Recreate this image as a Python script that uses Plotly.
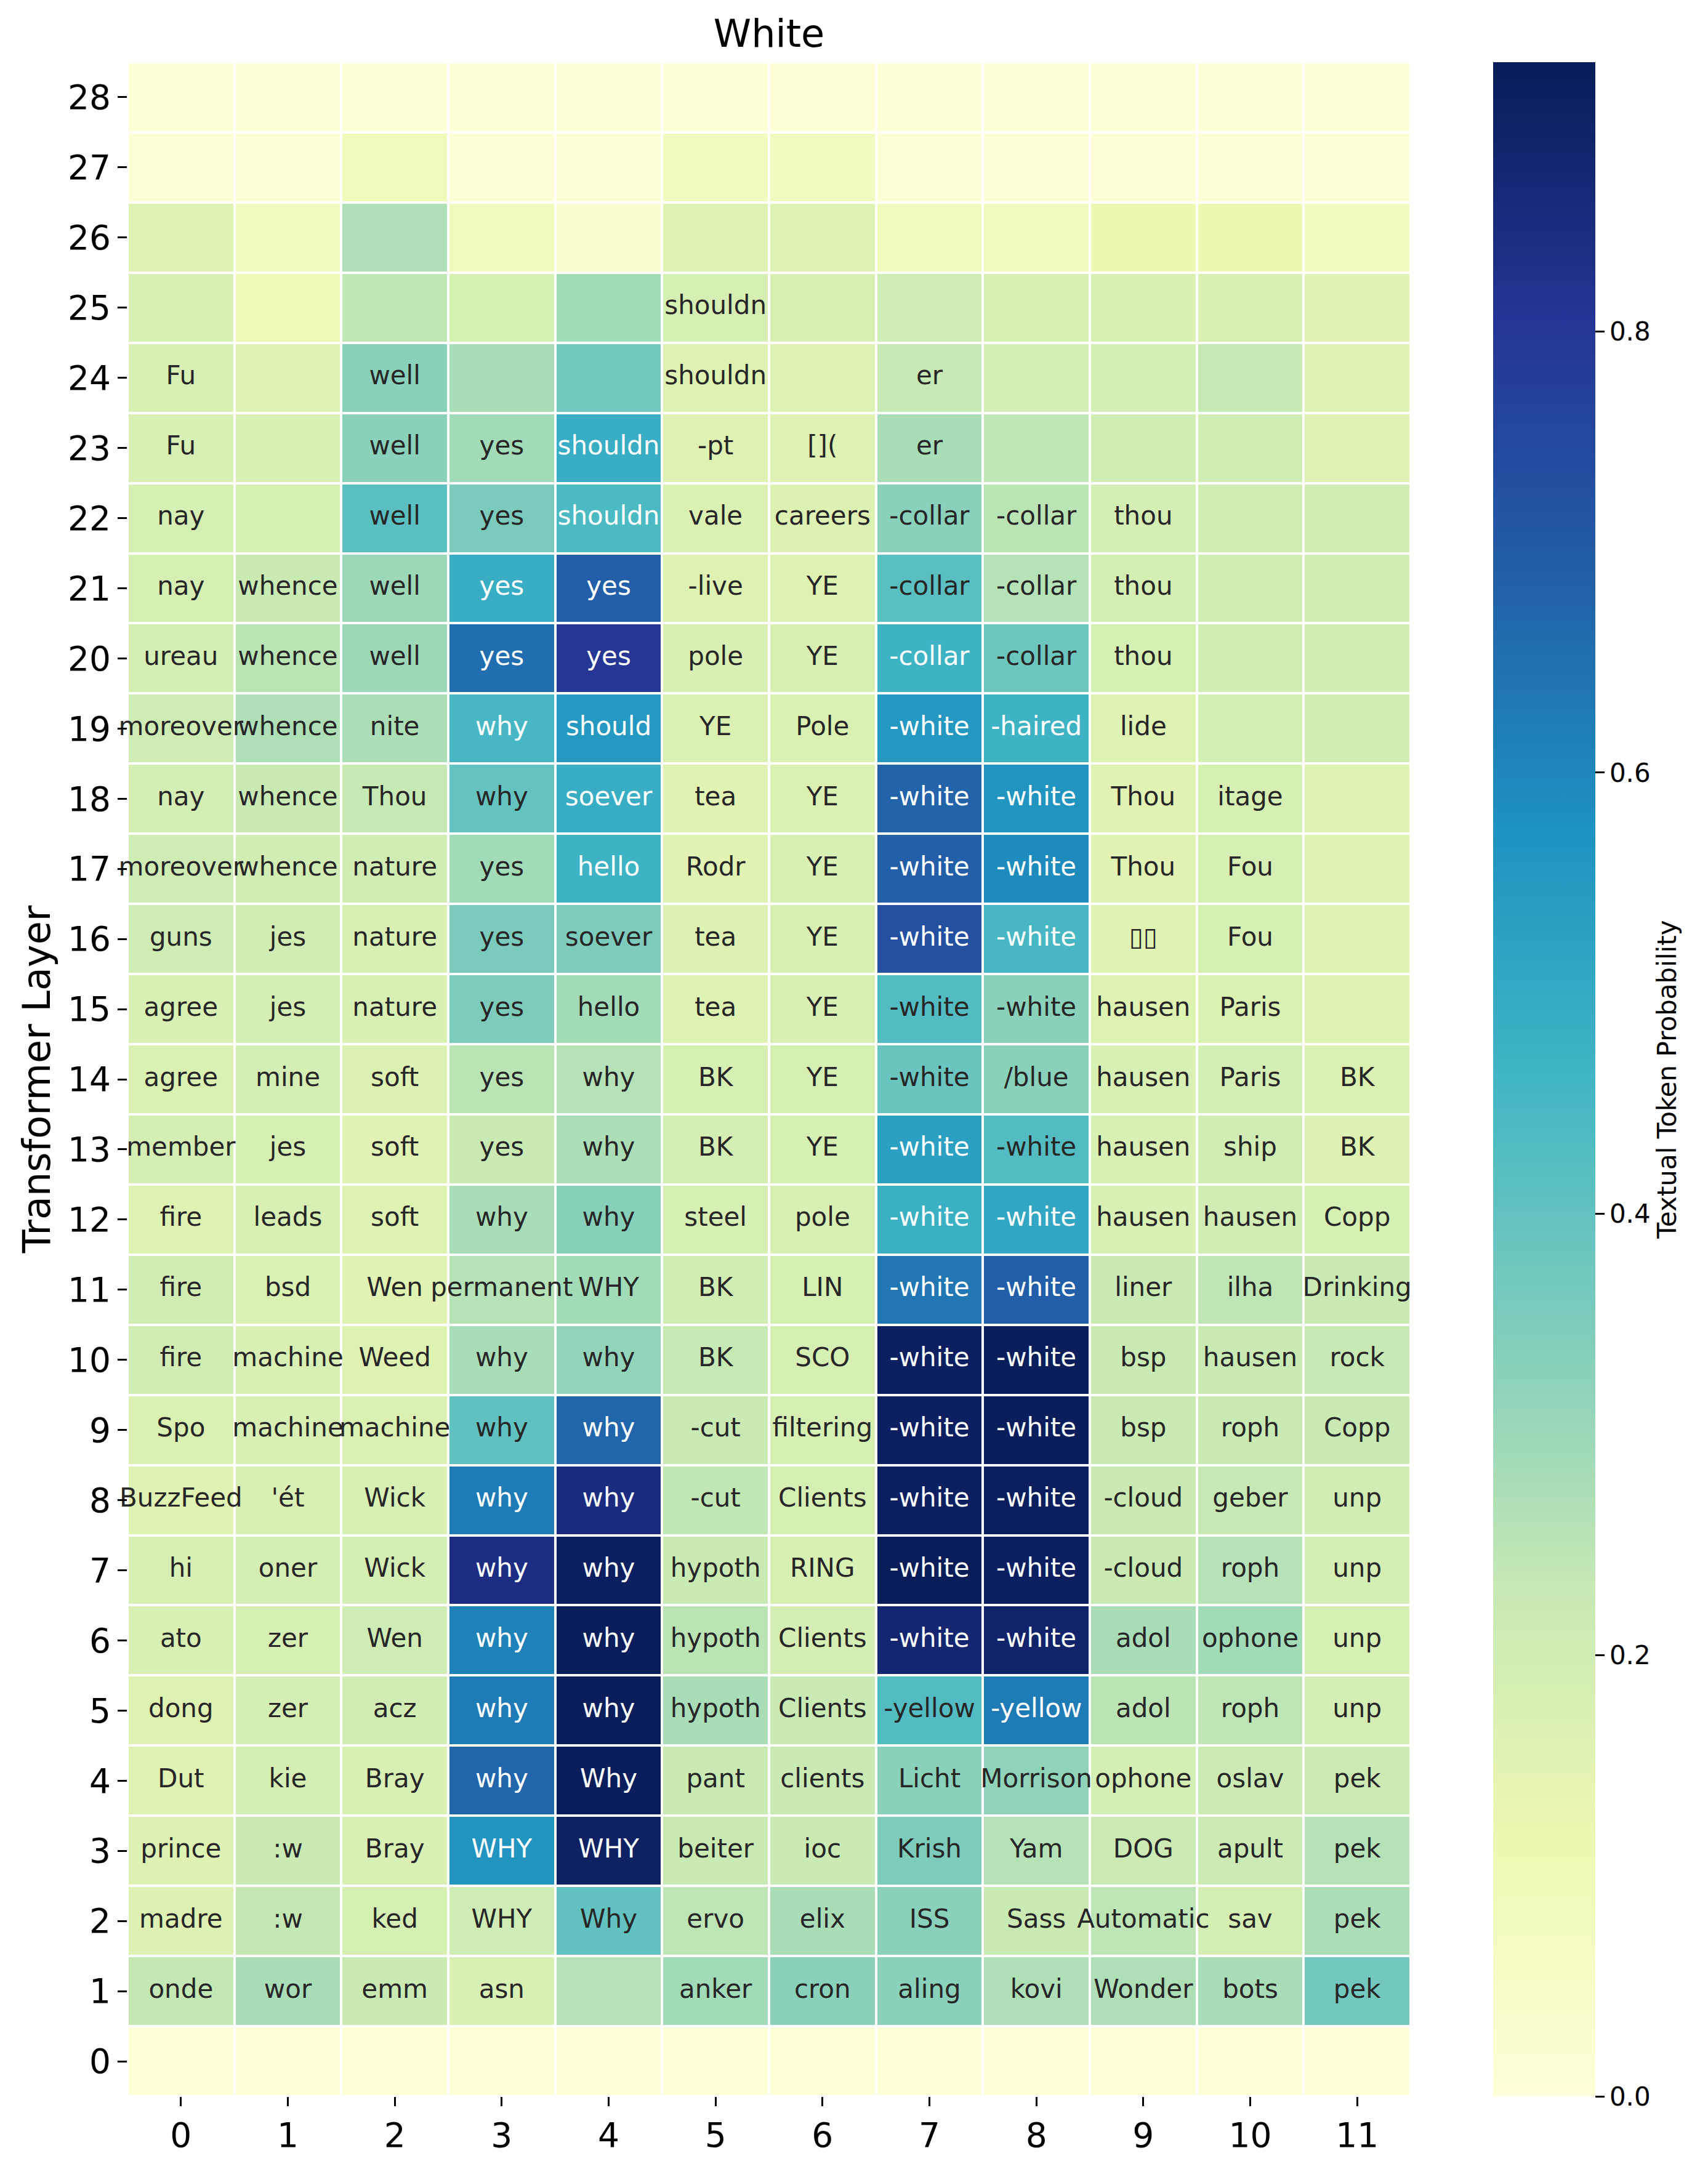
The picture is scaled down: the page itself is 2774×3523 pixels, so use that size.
import plotly.graph_objects as go

# ---------------- data ----------------
layers = list(range(29))          # y: transformer layer 0..28
positions = list(range(12))       # x: token position 0..11

# probs[layer][position]
probs = [
    [0.003, 0.003, 0.003, 0.003, 0.003, 0.003, 0.003, 0.003, 0.003, 0.003, 0.003, 0.003],  # 0
    [0.235, 0.28, 0.22, 0.18, 0.26, 0.29, 0.33, 0.33, 0.27, 0.27, 0.28, 0.37],            # 1
    [0.165, 0.235, 0.185, 0.21, 0.40, 0.245, 0.28, 0.33, 0.22, 0.245, 0.19, 0.275],       # 2
    [0.165, 0.22, 0.18, 0.565, 0.90, 0.22, 0.22, 0.35, 0.26, 0.215, 0.215, 0.26],         # 3
    [0.16, 0.19, 0.18, 0.675, 0.915, 0.22, 0.22, 0.33, 0.32, 0.19, 0.215, 0.215],         # 4
    [0.16, 0.19, 0.20, 0.625, 0.915, 0.28, 0.22, 0.43, 0.625, 0.25, 0.245, 0.19],         # 5
    [0.18, 0.185, 0.21, 0.61, 0.915, 0.25, 0.19, 0.875, 0.885, 0.28, 0.29, 0.185],        # 6
    [0.18, 0.19, 0.19, 0.84, 0.905, 0.22, 0.18, 0.92, 0.905, 0.22, 0.26, 0.19],           # 7
    [0.155, 0.18, 0.18, 0.625, 0.845, 0.24, 0.185, 0.905, 0.91, 0.22, 0.23, 0.20],        # 8
    [0.17, 0.18, 0.17, 0.405, 0.675, 0.22, 0.185, 0.905, 0.915, 0.22, 0.22, 0.22],        # 9
    [0.20, 0.18, 0.16, 0.28, 0.315, 0.23, 0.185, 0.905, 0.915, 0.22, 0.22, 0.23],         # 10
    [0.20, 0.17, 0.155, 0.26, 0.29, 0.20, 0.185, 0.635, 0.69, 0.22, 0.245, 0.22],         # 11
    [0.16, 0.18, 0.16, 0.28, 0.335, 0.185, 0.18, 0.48, 0.51, 0.18, 0.20, 0.185],          # 12
    [0.19, 0.185, 0.155, 0.22, 0.275, 0.19, 0.185, 0.53, 0.43, 0.18, 0.20, 0.165],        # 13
    [0.17, 0.19, 0.165, 0.25, 0.26, 0.185, 0.185, 0.385, 0.33, 0.18, 0.19, 0.17],         # 14
    [0.18, 0.19, 0.18, 0.35, 0.29, 0.16, 0.18, 0.43, 0.33, 0.16, 0.17, 0.16],             # 15
    [0.21, 0.20, 0.18, 0.355, 0.35, 0.165, 0.18, 0.73, 0.45, 0.155, 0.185, 0.16],         # 16
    [0.21, 0.20, 0.20, 0.29, 0.47, 0.155, 0.18, 0.69, 0.59, 0.155, 0.185, 0.16],          # 17
    [0.19, 0.22, 0.23, 0.395, 0.49, 0.155, 0.17, 0.68, 0.565, 0.155, 0.185, 0.16],        # 18
    [0.21, 0.27, 0.275, 0.45, 0.55, 0.17, 0.17, 0.555, 0.47, 0.16, 0.19, 0.20],           # 19
    [0.19, 0.25, 0.30, 0.655, 0.80, 0.18, 0.18, 0.47, 0.38, 0.185, 0.20, 0.20],           # 20
    [0.185, 0.22, 0.30, 0.49, 0.69, 0.16, 0.16, 0.415, 0.26, 0.19, 0.20, 0.20],           # 21
    [0.185, 0.185, 0.415, 0.355, 0.44, 0.17, 0.165, 0.33, 0.25, 0.19, 0.20, 0.20],        # 22
    [0.18, 0.18, 0.33, 0.29, 0.49, 0.16, 0.16, 0.28, 0.24, 0.20, 0.20, 0.155],            # 23
    [0.18, 0.16, 0.33, 0.28, 0.37, 0.16, 0.16, 0.23, 0.19, 0.19, 0.23, 0.155],            # 24
    [0.18, 0.10, 0.24, 0.185, 0.29, 0.185, 0.18, 0.21, 0.18, 0.18, 0.18, 0.155],          # 25
    [0.155, 0.085, 0.27, 0.085, 0.03, 0.16, 0.16, 0.085, 0.09, 0.11, 0.11, 0.08],         # 26
    [0.01, 0.01, 0.09, 0.01, 0.01, 0.08, 0.08, 0.01, 0.01, 0.01, 0.01, 0.01],             # 27
    [0.005, 0.005, 0.005, 0.005, 0.005, 0.005, 0.005, 0.005, 0.005, 0.005, 0.005, 0.005], # 28
]

# tokens[layer][position]
tokens = [
    ["", "", "", "", "", "", "", "", "", "", "", ""],
    ["onde", "wor", "emm", "asn", "", "anker", "cron", "aling", "kovi", "Wonder", "bots", "pek"],
    ["madre", ":w", "ked", "WHY", "Why", "ervo", "elix", "ISS", "Sass", "Automatic", "sav", "pek"],
    ["prince", ":w", "Bray", "WHY", "WHY", "beiter", "ioc", "Krish", "Yam", "DOG", "apult", "pek"],
    ["Dut", "kie", "Bray", "why", "Why", "pant", "clients", "Licht", "Morrison", "ophone", "oslav", "pek"],
    ["dong", "zer", "acz", "why", "why", "hypoth", "Clients", "-yellow", "-yellow", "adol", "roph", "unp"],
    ["ato", "zer", "Wen", "why", "why", "hypoth", "Clients", "-white", "-white", "adol", "ophone", "unp"],
    ["hi", "oner", "Wick", "why", "why", "hypoth", "RING", "-white", "-white", "-cloud", "roph", "unp"],
    ["BuzzFeed", "'ét", "Wick", "why", "why", "-cut", "Clients", "-white", "-white", "-cloud", "geber", "unp"],
    ["Spo", "machine", "machine", "why", "why", "-cut", "filtering", "-white", "-white", "bsp", "roph", "Copp"],
    ["fire", "machine", "Weed", "why", "why", "BK", "SCO", "-white", "-white", "bsp", "hausen", "rock"],
    ["fire", "bsd", "Wen", "permanent", "WHY", "BK", "LIN", "-white", "-white", "liner", "ilha", "Drinking"],
    ["fire", "leads", "soft", "why", "why", "steel", "pole", "-white", "-white", "hausen", "hausen", "Copp"],
    ["member", "jes", "soft", "yes", "why", "BK", "YE", "-white", "-white", "hausen", "ship", "BK"],
    ["agree", "mine", "soft", "yes", "why", "BK", "YE", "-white", "/blue", "hausen", "Paris", "BK"],
    ["agree", "jes", "nature", "yes", "hello", "tea", "YE", "-white", "-white", "hausen", "Paris", ""],
    ["guns", "jes", "nature", "yes", "soever", "tea", "YE", "-white", "-white", "\u25af\u25af", "Fou", ""],
    ["moreover", "whence", "nature", "yes", "hello", "Rodr", "YE", "-white", "-white", "Thou", "Fou", ""],
    ["nay", "whence", "Thou", "why", "soever", "tea", "YE", "-white", "-white", "Thou", "itage", ""],
    ["moreover", "whence", "nite", "why", "should", "YE", "Pole", "-white", "-haired", "lide", "", ""],
    ["ureau", "whence", "well", "yes", "yes", "pole", "YE", "-collar", "-collar", "thou", "", ""],
    ["nay", "whence", "well", "yes", "yes", "-live", "YE", "-collar", "-collar", "thou", "", ""],
    ["nay", "", "well", "yes", "shouldn", "vale", "careers", "-collar", "-collar", "thou", "", ""],
    ["Fu", "", "well", "yes", "shouldn", "-pt", "[](", "er", "", "", "", ""],
    ["Fu", "", "well", "", "", "shouldn", "", "er", "", "", "", ""],
    ["", "", "", "", "", "shouldn", "", "", "", "", "", ""],
    ["", "", "", "", "", "", "", "", "", "", "", ""],
    ["", "", "", "", "", "", "", "", "", "", "", ""],
    ["", "", "", "", "", "", "", "", "", "", "", ""],
]

cbar_ticks = [0.0, 0.2, 0.4, 0.6, 0.8]
cbar_labels = ["0.0", "0.2", "0.4", "0.6", "0.8"]

ZMIN, ZMAX = 0.0, 0.922

# ---------------- colour scale (matplotlib YlGnBu) ----------------
ylgnbu = [
    (255, 255, 217), (237, 248, 177), (199, 233, 180), (127, 205, 187),
    (65, 182, 196), (29, 145, 192), (34, 94, 168), (37, 52, 148), (8, 29, 88),
]
colorscale = [[i / 8, "rgb(%d,%d,%d)" % c] for i, c in enumerate(ylgnbu)]


def value_color(v):
    p = min(max((v - ZMIN) / (ZMAX - ZMIN), 0.0), 1.0) * 8
    i = min(int(p), 7)
    f = p - i
    a, b = ylgnbu[i], ylgnbu[i + 1]
    return tuple(a[k] + (b[k] - a[k]) * f for k in range(3))


def luminance(rgb):
    out = []
    for c in rgb:
        c = c / 255.0
        out.append(c / 12.92 if c <= 0.03928 else ((c + 0.055) / 1.055) ** 2.4)
    return 0.2126 * out[0] + 0.7152 * out[1] + 0.0722 * out[2]


# ---------------- text points ----------------
tx, ty, tt, tc = [], [], [], []
for li, layer in enumerate(layers):
    for pi, pos in enumerate(positions):
        tok = tokens[li][pi]
        if tok == "":
            continue
        tx.append(pos)
        ty.append(layer)
        tt.append(tok)
        lum = luminance(value_color(probs[li][pi]))
        tc.append("#262626" if lum > 0.408 else "#ffffff")

FONT = "DejaVu Sans"

fig = go.Figure()
fig.add_trace(go.Heatmap(
    x=positions, y=layers, z=probs,
    zmin=ZMIN, zmax=ZMAX, colorscale=colorscale,
    xgap=4, ygap=4, hoverinfo="skip",
    colorbar=dict(
        thickness=166, thicknessmode="pixels",
        len=1.0, lenmode="fraction",
        x=1.0643, xanchor="left", xpad=0,
        y=0.5, yanchor="middle", ypad=0,
        outlinewidth=0,
        tickmode="array", tickvals=cbar_ticks, ticktext=cbar_labels,
        ticks="outside", ticklen=15, tickwidth=3, tickcolor="black",
        tickfont=dict(family=FONT, size=42, color="black"),
        title=dict(text="Textual Token Probability", side="right",
                   font=dict(family=FONT, size=42, color="black")),
    ),
))
fig.add_trace(go.Scatter(
    x=tx, y=ty, text=tt, mode="text",
    textposition="middle center",
    textfont=dict(family=FONT, size=42, color=tc),
    cliponaxis=False,
    hoverinfo="skip", showlegend=False,
))

fig.update_layout(
    width=2774, height=3523,
    margin=dict(l=207, r=483, t=101, b=118),
    paper_bgcolor="white", plot_bgcolor="white",
    title=dict(text="White", x=0.5, xref="paper", xanchor="center",
               y=1 - 54 / 3523, yanchor="middle",
               font=dict(family=FONT, size=62, color="black")),
    showlegend=False,
)
fig.update_xaxes(
    range=[-0.5, 11.5], tickmode="array", tickvals=positions,
    ticktext=[str(p) for p in positions],
    showgrid=False, zeroline=False, showline=False,
    ticks="outside", ticklen=15, tickwidth=3, tickcolor="black",
    tickfont=dict(family=FONT, size=55, color="black"),
)
fig.update_yaxes(
    range=[-0.5, 28.5], tickmode="array", tickvals=layers,
    ticktext=[str(l) for l in layers],
    showgrid=False, zeroline=False, showline=False,
    ticks="outside", ticklen=15, tickwidth=3, tickcolor="black",
    tickfont=dict(family=FONT, size=55, color="black"),
    title=dict(text="Transformer Layer", standoff=8,
               font=dict(family=FONT, size=62, color="black")),
)

fig.write_html("out.html")
